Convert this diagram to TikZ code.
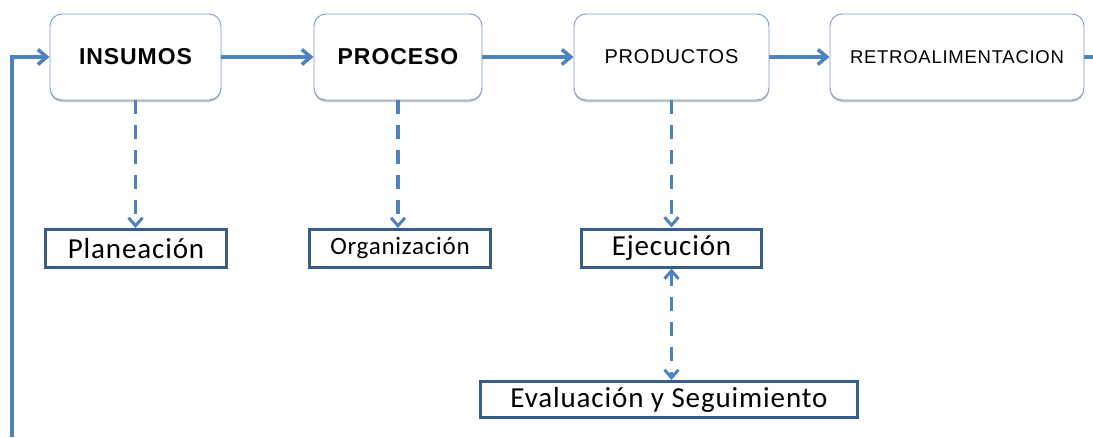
\documentclass[tikz,border=0pt]{standalone}
\usepackage{fontspec}
\setmainfont{Liberation Sans}[LetterSpace=4]
\newfontfamily\calfont{Carlito}[LetterSpace=3]
\usetikzlibrary{arrows.meta,shadows}
\definecolor{lineblue}{HTML}{4F81BD}
\definecolor{boxedge}{HTML}{7F9CC7}
\definecolor{darkedge}{HTML}{385D8A}
\begin{document}
\begin{tikzpicture}[x=1pt,y=-1pt,
  topbox/.style={draw=boxedge, line width=0.9pt, rounded corners=12pt, fill=white,
    drop shadow={shadow xshift=0pt, shadow yshift=-2pt, fill=gray, opacity=0.45},
    minimum height=86pt, inner sep=0pt, text=black},
  subbox/.style={draw=darkedge, line width=3pt, fill=white, minimum height=38pt,
    inner sep=0pt, text=black, font=\calfont},
  flow/.style={draw=lineblue, line width=4pt,
    -{Straight Barb[length=9pt,width=15pt,line width=3.5pt]}},
  plainflow/.style={draw=lineblue, line width=4pt},
  dflow/.style={draw=lineblue, line width=3.5pt, dash pattern=on 14pt off 11pt,
    -{Straight Barb[length=8pt,width=14pt,line width=3pt]}},
  ddflow/.style={draw=lineblue, line width=3.5pt, dash pattern=on 14pt off 11pt,
    {Straight Barb[length=8pt,width=14pt,line width=3pt]}-{Straight Barb[length=8pt,width=14pt,line width=3pt]}}
]
\useasboundingbox (0,0) rectangle (1093,437);

% top row
\node[topbox, minimum width=171pt, font=\fontsize{23}{26}\selectfont\bfseries] (ins) at (135.5,57) {INSUMOS};
\node[topbox, minimum width=168pt, font=\fontsize{23}{26}\selectfont\bfseries] (pro) at (398,57) {PROCESO};
\node[topbox, minimum width=195pt, font=\fontsize{20}{24}\selectfont] (prd) at (671.5,57) {PRODUCTOS};
\node[topbox, minimum width=254pt, font=\fontsize{18.5}{22}\selectfont] (ret) at (957,57) {RETROALIMENTACION};

% bottom boxes
\node[subbox, minimum width=181pt, font=\calfont\fontsize{29}{32}\selectfont] (pla) at (136,248.5) {Planeación};
\node[subbox, minimum width=181pt, font=\calfont\fontsize{25}{28}\selectfont] (org) at (400,248.5) {Organización};
\node[subbox, minimum width=180pt, font=\calfont\fontsize{29}{32}\selectfont] (eje) at (671.5,248) {Ejecución};
\node[subbox, minimum width=377pt, minimum height=36pt, font=\calfont\fontsize{29}{32}\selectfont] (eva) at (669,399.5) {Evaluación y Seguimiento};

% coordinates for free ends
\coordinate (fbstart) at (12,437);
\coordinate (fbcorner) at (12,57);
\coordinate (rightend) at (1093,57);

% solid flow
\draw[flow] (ins) -- (pro);
\draw[flow] (pro) -- (prd);
\draw[flow] (prd) -- (ret);
\draw[plainflow] (ret) -- (rightend);
\draw[flow] (fbstart) -- (fbcorner) -- (ins.west);

% dashed arrows
\draw[dflow] (ins.south) -- (ins.south |- pla.north);
\draw[dflow] (pro.south) -- (pro.south |- org.north);
\draw[dflow] (prd.south) -- (prd.south |- eje.north);
\draw[ddflow] (eje.south) -- (eje.south |- eva.north);
\end{tikzpicture}
\end{document}
